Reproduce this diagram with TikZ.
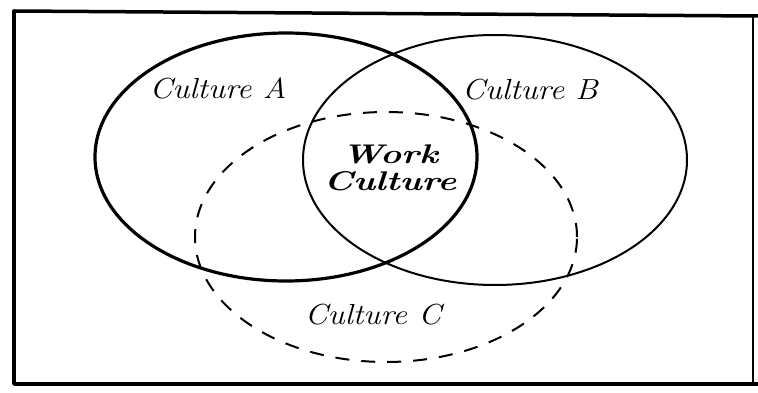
\documentclass[tikz,border=0pt]{standalone}
\begin{document}
\begin{tikzpicture}[x=1pt,y=-1pt,
  framepen/.style={line width=3.5pt, line cap=round, line join=round},
  circA/.style={line width=3.2pt},
  circB/.style={line width=2pt},
  circC/.style={line width=2pt, dash pattern=on 14pt off 12pt},
  lbl/.style={font=\fontsize{29}{32}\selectfont\itshape, xscale=1.12, inner sep=0pt},
  wlbl/.style={font=\fontsize{27}{27}\selectfont\bfseries\itshape, xscale=1.32, inner sep=0pt, align=center}]
\useasboundingbox (0,0) rectangle (758,393);
% frame
\draw[framepen] (14,11) -- (14,384) -- (758,384);
\draw[framepen] (14,11) -- (758,16);
\draw[line width=1.2pt] (753,16) -- (753,384);
% sets
\draw[circA] (286,157) ellipse [x radius=191pt, y radius=124pt];
\draw[circB] (495,160) ellipse [x radius=192pt, y radius=125pt];
\draw[circC] (386,237) ellipse [x radius=191pt, y radius=125pt];
% labels
\node[lbl] (la) at (218,88) {Culture A};
\node[lbl] (lb) at (530,90) {Culture B};
\node[lbl] (lc) at (373,315) {Culture C};
\node[wlbl] (lw) at (390,168) {Work\\Culture};
\end{tikzpicture}
\end{document}
